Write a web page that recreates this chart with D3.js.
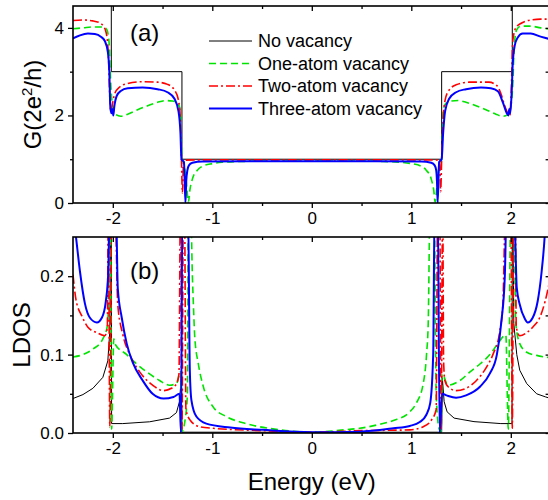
<!DOCTYPE html>
<html>
<head>
<meta charset="utf-8">
<script src="https://cdn.jsdelivr.net/npm/d3@7"></script>
<style>
  body { margin: 0; background: #fff; }
  svg { display: block; font-family: 'Liberation Sans', Arial, sans-serif; }
</style>
</head>
<body>
<div id="chart"></div>
<script>
// tick values
var energyTicks = [-2, -1, 0, 1, 2];
var energyMinor = [-1.5, -0.5, 0.5, 1.5];
var gTicks = [0, 2, 4];
var gMinor = [1, 3];
var ldosTicks = [0, 0.1, 0.2];
var ldosMinor = [0.05, 0.15];

var seriesNames = ['No vacancy', 'One-atom vacancy', 'Two-atom vacancy', 'Three-atom vacancy'];

// panel (a): conductance, [energy, G]
var gNoVacancy = [[-2.4,5],[-2.015,5],[-2.015,3],[-1.305,3],[-1.305,1],[1.305,1],[1.305,3],[2.015,3],[2.015,5],[2.4,5]];
var gOneAtom = [[-2.4,3.98],[-2.3,4.0],[-2.2,4.02],[-2.1,4.02],[-2.06,3.96],[-2.035,3.6],[-2.02,2.7],[-2.0,2.2],[-1.97,2.02],[-1.92,1.98],[-1.85,2.03],[-1.75,2.13],[-1.65,2.22],[-1.55,2.3],[-1.47,2.34],[-1.4,2.33],[-1.35,2.28],[-1.32,2.1],[-1.305,1.0],[-1.28,0.85],[-1.26,0.45],[-1.24,0.02],[-1.225,0.3],[-1.2,0.55],[-1.15,0.75],[-1.1,0.84],[-1.0,0.9],[-0.9,0.93],[-0.7,0.95],[-0.4,0.96],[0,0.96],[0.4,0.96],[0.7,0.95],[0.9,0.93],[1.0,0.9],[1.1,0.84],[1.15,0.75],[1.2,0.55],[1.225,0.3],[1.24,0.02],[1.26,0.45],[1.28,0.85],[1.305,1.0],[1.32,2.1],[1.35,2.28],[1.4,2.33],[1.47,2.34],[1.55,2.3],[1.65,2.22],[1.75,2.13],[1.85,2.03],[1.92,1.98],[1.97,2.02],[2.0,2.2],[2.02,2.7],[2.035,3.6],[2.06,3.96],[2.1,4.04],[2.2,4.04],[2.3,4.0],[2.4,3.97]];
var gTwoAtom = [[-2.4,4.17],[-2.3,4.18],[-2.2,4.16],[-2.12,4.1],[-2.07,3.92],[-2.045,3.4],[-2.03,2.4],[-2.02,2.1],[-2.005,2.25],[-1.98,2.5],[-1.93,2.65],[-1.85,2.73],[-1.7,2.77],[-1.55,2.76],[-1.45,2.71],[-1.38,2.58],[-1.34,2.35],[-1.32,1.9],[-1.31,1.0],[-1.3,0.23],[-1.29,0.9],[-1.27,0.98],[-1.1,0.985],[0,0.985],[1.1,0.985],[1.27,0.98],[1.285,0.9],[1.295,0.26],[1.305,1.0],[1.32,1.9],[1.34,2.35],[1.38,2.58],[1.45,2.7],[1.58,2.76],[1.78,2.76],[1.86,2.68],[1.9,2.5],[1.95,2.15],[1.99,2.0],[2.005,2.6],[2.02,3.7],[2.05,4.0],[2.1,4.1],[2.2,4.18],[2.3,4.2],[2.4,4.2]];
var gThreeAtom = [[-2.4,3.76],[-2.33,3.83],[-2.25,3.87],[-2.18,3.86],[-2.12,3.8],[-2.08,3.7],[-2.05,3.45],[-2.035,3.0],[-2.025,2.2],[-2.015,2.05],[-2.005,2.15],[-1.995,2.0],[-1.985,2.2],[-1.96,2.45],[-1.92,2.56],[-1.85,2.62],[-1.7,2.64],[-1.55,2.6],[-1.45,2.53],[-1.38,2.38],[-1.34,2.1],[-1.32,1.6],[-1.31,1.0],[-1.285,0.94],[-1.27,0.0],[-1.262,0.5],[-1.25,0.75],[-1.235,0.86],[-1.2,0.92],[-1.1,0.95],[0,0.955],[1.1,0.95],[1.2,0.92],[1.235,0.86],[1.25,0.75],[1.258,0.5],[1.265,0.0],[1.28,0.94],[1.305,1.0],[1.32,1.6],[1.34,2.1],[1.38,2.38],[1.45,2.53],[1.55,2.6],[1.7,2.64],[1.8,2.62],[1.87,2.55],[1.92,2.3],[1.96,2.05],[1.975,2.0],[1.985,2.15],[1.995,2.05],[2.01,2.6],[2.02,3.2],[2.04,3.6],[2.07,3.78],[2.12,3.87],[2.2,3.87],[2.3,3.8],[2.4,3.74]];

// panel (b): local density of states, [energy, LDOS]
var ldosNoVacancy = [[-2.4,0.044],[-2.3,0.049],[-2.2,0.057],[-2.1,0.071],[-2.05,0.092],[-2.03,0.13],[-2.02,0.3],[-2.015,0.3],[-2.012,0.012],[-1.9,0.012],[-1.63,0.0143],[-1.43,0.019],[-1.36,0.026],[-1.33,0.04],[-1.312,0.07],[-1.305,0.001],[0,0.001],[1.305,0.001],[1.312,0.07],[1.33,0.04],[1.36,0.027],[1.43,0.019],[1.63,0.0145],[1.9,0.012],[2.012,0.012],[2.015,0.3],[2.02,0.3],[2.03,0.14],[2.06,0.1],[2.09,0.08],[2.16,0.063],[2.26,0.05],[2.35,0.046],[2.4,0.044]];
var ldosOneAtom = [[-2.4,0.097],[-2.3,0.1],[-2.2,0.107],[-2.1,0.12],[-2.05,0.14],[-2.035,0.3],[-2.025,0.3],[-2.012,0.005],[-1.99,0.12],[-1.98,0.114],[-1.86,0.1],[-1.76,0.088],[-1.66,0.078],[-1.53,0.067],[-1.43,0.061],[-1.36,0.063],[-1.32,0.078],[-1.305,0.002],[-1.27,0.02],[-1.25,0.05],[-1.24,0.3],[-1.22,0.3],[-1.2,0.2],[-1.19,0.164],[-1.176,0.122],[-1.14,0.088],[-1.09,0.059],[-0.99,0.033],[-0.86,0.021],[-0.66,0.012],[-0.32,0.004],[0,0.001],[0.32,0.004],[0.48,0.006],[0.68,0.011],[0.82,0.016],[0.985,0.027],[1.05,0.038],[1.12,0.063],[1.153,0.1],[1.17,0.14],[1.19,0.3],[1.23,0.3],[1.25,0.05],[1.28,0.005],[1.3,0.002],[1.31,0.075],[1.37,0.061],[1.49,0.067],[1.59,0.078],[1.69,0.088],[1.79,0.1],[1.87,0.114],[1.95,0.125],[1.975,0.005],[2.0,0.3],[2.03,0.3],[2.05,0.14],[2.09,0.114],[2.16,0.103],[2.26,0.099],[2.4,0.096]];
var ldosTwoAtom = [[-2.4,0.202],[-2.37,0.17],[-2.31,0.149],[-2.25,0.135],[-2.16,0.128],[-2.08,0.124],[-2.055,0.135],[-2.045,0.3],[-2.03,0.008],[-2.01,0.3],[-1.98,0.3],[-1.95,0.164],[-1.9,0.126],[-1.83,0.1],[-1.73,0.078],[-1.6,0.061],[-1.49,0.054],[-1.41,0.057],[-1.36,0.063],[-1.335,0.075],[-1.32,0.3],[-1.305,0.005],[-1.29,0.3],[-1.28,0.3],[-1.265,0.03],[-1.22,0.016],[-1.126,0.008],[-0.99,0.006],[-0.5,0.003],[0,0.001],[0.5,0.003],[0.985,0.004],[1.12,0.008],[1.2,0.016],[1.25,0.03],[1.265,0.3],[1.285,0.3],[1.3,0.004],[1.315,0.3],[1.325,0.09],[1.337,0.067],[1.37,0.059],[1.45,0.054],[1.55,0.057],[1.655,0.067],[1.756,0.084],[1.82,0.1],[1.89,0.13],[1.92,0.164],[1.95,0.3],[2.0,0.3],[2.015,0.006],[2.03,0.3],[2.045,0.3],[2.055,0.135],[2.09,0.124],[2.16,0.128],[2.22,0.135],[2.29,0.147],[2.345,0.168],[2.4,0.2]];
var ldosThreeAtom = [[-2.4,0.28],[-2.37,0.25],[-2.33,0.206],[-2.28,0.165],[-2.23,0.147],[-2.16,0.141],[-2.11,0.147],[-2.07,0.168],[-2.045,0.206],[-2.03,0.3],[-1.97,0.3],[-1.95,0.185],[-1.91,0.147],[-1.86,0.114],[-1.8,0.09],[-1.7,0.067],[-1.6,0.05],[-1.49,0.044],[-1.39,0.046],[-1.33,0.05],[-1.315,0.0],[-1.3,0.3],[-1.245,0.3],[-1.226,0.08],[-1.21,0.042],[-1.16,0.021],[-1.06,0.012],[-0.82,0.007],[-0.49,0.004],[0,0.001],[0.48,0.0017],[0.82,0.006],[0.985,0.009],[1.085,0.014],[1.15,0.023],[1.19,0.038],[1.22,0.1],[1.235,0.3],[1.265,0.3],[1.285,0.0],[1.31,0.05],[1.354,0.048],[1.45,0.045],[1.55,0.048],[1.69,0.059],[1.79,0.076],[1.86,0.1],[1.906,0.143],[1.94,0.2],[1.96,0.3],[2.03,0.3],[2.06,0.185],[2.09,0.164],[2.14,0.146],[2.17,0.141],[2.22,0.147],[2.27,0.168],[2.31,0.206],[2.34,0.25],[2.36,0.3],[2.4,0.3]];

var styles = [
  { color: '#000000', width: 1, dash: null },
  { color: '#00e400', width: 1.6, dash: '7,4' },
  { color: '#ff0000', width: 1.6, dash: '9,3,2,3' },
  { color: '#0000ff', width: 2, dash: null }
];

var width = 548, height = 500;
var font = "'Liberation Sans', Arial, sans-serif";

var x = d3.scaleLinear().domain([-2.4, 2.4]).range([73, 550.6]);
var yG = d3.scaleLinear().domain([0, 4.5]).range([203, 6]);
var yL = d3.scaleLinear().domain([0, 0.25]).range([433, 237]);

var svg = d3.select('#chart').append('svg')
  .attr('width', width)
  .attr('height', height);

function drawPanel(id, y, series, ticks, minor, fmt, title, tag, tagY) {
  var top = y.range()[1], bottom = y.range()[0];
  var left = x.range()[0], right = x.range()[1];

  svg.append('clipPath').attr('id', 'clip-' + id)
    .append('rect')
      .attr('x', left).attr('y', top)
      .attr('width', right - left).attr('height', bottom - top);

  var plot = svg.append('g').attr('clip-path', 'url(#clip-' + id + ')');

  series.forEach(function(data, i) {
    var line = d3.line()
      .x(function(d) { return x(d[0]); })
      .y(function(d) { return y(d[1]); })
      .curve(i == 0 ? d3.curveLinear : d3.curveMonotoneX);
    plot.append('path')
      .datum(data)
      .attr('fill', 'none')
      .attr('stroke', styles[i].color)
      .attr('stroke-width', styles[i].width)
      .attr('stroke-dasharray', styles[i].dash)
      .attr('stroke-linejoin', 'round')
      .attr('d', line);
  });

  // axes: labelled bottom/left, mirrored inward ticks top/right
  var bot = svg.append('g').attr('transform', 'translate(0,' + bottom + ')')
    .call(d3.axisBottom(x).tickValues(energyTicks).tickSizeInner(5).tickSizeOuter(0).tickPadding(4)
      .tickFormat(function(d) { return String(d); }));
  svg.append('g').attr('transform', 'translate(0,' + bottom + ')')
    .call(d3.axisBottom(x).tickValues(energyMinor).tickSizeInner(3).tickSizeOuter(0).tickFormat(''));
  svg.append('g').attr('transform', 'translate(0,' + top + ')')
    .call(d3.axisTop(x).tickValues(energyTicks).tickSizeInner(-5).tickSizeOuter(0).tickFormat(''));
  svg.append('g').attr('transform', 'translate(0,' + top + ')')
    .call(d3.axisTop(x).tickValues(energyMinor).tickSizeInner(-3).tickSizeOuter(0).tickFormat(''));

  var lft = svg.append('g').attr('transform', 'translate(' + left + ',0)')
    .call(d3.axisLeft(y).tickValues(ticks).tickSizeInner(5).tickSizeOuter(0).tickPadding(4).tickFormat(fmt));
  svg.append('g').attr('transform', 'translate(' + left + ',0)')
    .call(d3.axisLeft(y).tickValues(minor).tickSizeInner(3).tickSizeOuter(0).tickFormat(''));
  svg.append('g').attr('transform', 'translate(' + right + ',0)')
    .call(d3.axisRight(y).tickValues(ticks.concat(minor)).tickSizeInner(-5).tickSizeOuter(0).tickFormat(''));

  svg.selectAll('.domain').remove();
  svg.selectAll('.tick line').attr('stroke', '#000').attr('stroke-width', 1.3);
  bot.selectAll('text').attr('font-size', 17).attr('font-family', font).attr('fill', '#000');
  lft.selectAll('text').attr('font-size', 17).attr('font-family', font).attr('fill', '#000');

  svg.append('rect')
    .attr('x', left).attr('y', top)
    .attr('width', right - left).attr('height', bottom - top)
    .attr('fill', 'none')
    .attr('stroke', '#000')
    .attr('stroke-width', 1.6);

  svg.append('text')
    .attr('x', 130).attr('y', tagY)
    .attr('font-size', 24)
    .text(tag);

  return title;
}

drawPanel('a', yG, [gNoVacancy, gOneAtom, gTwoAtom, gThreeAtom], gTicks, gMinor,
  function(d) { return String(d); }, null, '(a)', 41);
drawPanel('b', yL, [ldosNoVacancy, ldosOneAtom, ldosTwoAtom, ldosThreeAtom], ldosTicks, ldosMinor,
  d3.format('.1f'), null, '(b)', 279);

// axis titles
var gTitle = svg.append('text')
  .attr('transform', 'translate(41,104.5) rotate(-90)')
  .attr('text-anchor', 'middle')
  .attr('font-size', 24);
gTitle.append('tspan').text('G(2e');
gTitle.append('tspan').attr('font-size', 15).attr('dy', -9).text('2');
gTitle.append('tspan').attr('dy', 9).text('/h)');

svg.append('text')
  .attr('transform', 'translate(30,335) rotate(-90)')
  .attr('text-anchor', 'middle')
  .attr('font-size', 24)
  .text('LDOS');

svg.append('text')
  .attr('x', x(0)).attr('y', 490)
  .attr('text-anchor', 'middle')
  .attr('font-size', 24)
  .text('Energy (eV)');

// legend
var legend = svg.append('g');
seriesNames.forEach(function(name, i) {
  var ly = 41 + i * 22.5;
  legend.append('line')
    .attr('x1', 209).attr('x2', 252)
    .attr('y1', ly).attr('y2', ly)
    .attr('stroke', styles[i].color)
    .attr('stroke-width', styles[i].width)
    .attr('stroke-dasharray', styles[i].dash);
  legend.append('text')
    .attr('x', 258).attr('y', ly)
    .attr('dy', '0.35em')
    .attr('font-size', 18)
    .text(name);
});
</script>
</body>
</html>
